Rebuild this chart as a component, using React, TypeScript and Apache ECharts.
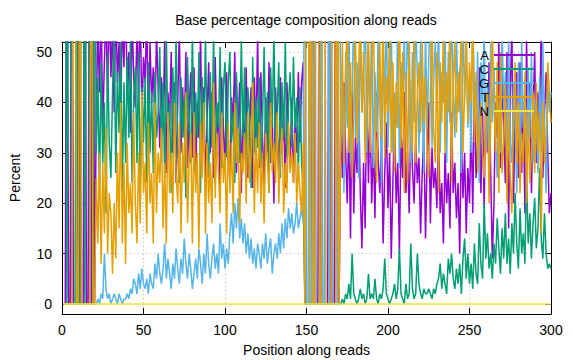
import React, { useEffect, useRef } from "react";
import * as echarts from "echarts";

const FONT = "'Liberation Sans', Arial, sans-serif";

const seriesNames = ["A", "C", "G", "T", "N"];
const seriesColors = ["#9400d3", "#009e73", "#56b4e9", "#e69f00", "#f0e442"];
const yTickValues = [0, 10, 20, 30, 40, 50];

// Percent of base A at positions 1..300
const aPct = [
  0, 0, 100, 0, 0, 100, 0, 0, 0, 100,
  0, 0, 0, 100, 0, 0, 100, 0, 100, 0,
  38, 55, 42, 60, 35, 48, 58, 40, 62, 45,
  55, 38, 60, 44, 52, 36, 58, 47, 63, 41,
  50, 34, 57, 45, 39, 55, 42, 60, 37, 49,
  44, 58, 33, 52, 40, 47, 36, 54, 43, 31,
  45, 34, 53, 26, 42, 36, 50, 30, 44, 24,
  40, 55, 30, 43, 33, 50, 27, 38, 46, 29,
  47, 24, 40, 33, 54, 28, 43, 22, 37, 48,
  30, 42, 25, 49, 32, 40, 21, 45, 35, 27,
  46, 31, 24, 41, 36, 50, 26, 34, 44, 22,
  39, 29, 47, 25, 35, 43, 23, 45, 32, 53,
  27, 46, 33, 24, 41, 30, 48, 28, 37, 20,
  43, 34, 26, 45, 30, 38, 23, 44, 33, 27,
  41, 24, 36, 30, 46, 32, 44, 48, 0, 0,
  0, 0, 0, 100, 0, 0, 0, 100, 0, 0,
  0, 0, 0, 100, 0, 0, 0, 100, 0, 0,
  38, 25, 44, 30, 20, 36, 13, 42, 18, 33,
  26, 40, 22, 11, 28, 15, 45, 24, 38, 20,
  32, 17, 42, 28, 22, 34, 12, 26, 36, 19,
  30, 9, 24, 38, 20, 28, 10, 34, 25, 42,
  22, 30, 18, 36, 27, 20, 33, 24, 29, 14,
  26, 34, 13, 28, 40, 16, 31, 23, 27, 19,
  35, 18, 24, 12, 30, 20, 26, 15, 38, 22,
  28, 17, 24, 10, 33, 21, 30, 14, 27, 20,
  36, 18, 44, 25, 32, 47, 22, 38, 19, 42,
  30, 48, 26, 9, 20, 40, 33, 52, 27, 45,
  35, 24, 50, 15, 42, 55, 20, 38, 46, 25,
  48, 26, 40, 18, 53, 30, 44, 22, 38, 50,
  28, 42, 34, 56, 25, 38, 46, 30, 18, 22,
];

// Percent of base C
const cPct = [
  100, 100, 0, 100, 100, 0, 0, 0, 100, 0,
  0, 100, 100, 0, 100, 100, 0, 0, 0, 100,
  30, 45, 22, 48, 28, 40, 18, 50, 32, 25,
  42, 55, 26, 46, 34, 52, 22, 44, 28, 49,
  33, 53, 24, 41, 47, 28, 50, 20, 43, 32,
  45, 24, 48, 30, 42, 26, 46, 33, 38, 51,
  28, 44, 25, 54, 32, 40, 22, 47, 34, 53,
  30, 24, 45, 33, 41, 21, 49, 35, 28, 55,
  26, 42, 33, 50, 22, 45, 30, 53, 34, 25,
  46, 31, 54, 24, 40, 35, 51, 27, 43, 48,
  29, 44, 50, 32, 38, 24, 46, 36, 28, 53,
  33, 47, 25, 43, 38, 23, 49, 30, 41, 31,
  45, 27, 36, 51, 32, 42, 22, 47, 35, 54,
  30, 38, 48, 25, 44, 33, 52, 29, 40, 46,
  31, 49, 35, 41, 26, 43, 28, 22, 0, 0,
  0, 0, 0, 0, 0, 0, 0, 0, 0, 0,
  0, 0, 0, 0, 0, 0, 0, 0, 0, 0,
  0, 1, 0, 2, 1, 4, 1, 10, 2, 1,
  0, 1, 3, 1, 2, 0, 1, 6, 1, 2,
  1, 5, 1, 0, 2, 1, 3, 9, 2, 1,
  0, 1, 2, 4, 1, 3, 11, 2, 1, 0,
  4, 1, 2, 12, 3, 1, 2, 10, 4, 2,
  1, 3, 2, 2, 3, 2, 1, 3, 2, 4,
  5, 8, 3, 6, 4, 2, 9, 6, 10, 5,
  3, 7, 4, 8, 2, 9, 13, 5, 10, 4,
  8, 3, 12, 6, 4, 16, 8, 5, 20, 9,
  14, 7, 10, 5, 12, 8, 17, 11, 6, 15,
  9, 18, 8, 13, 6, 16, 10, 22, 12, 7,
  19, 10, 14, 8, 26, 12, 18, 9, 16, 21,
  11, 15, 27, 13, 9, 18, 10, 7, 8, 7,
];

// Percent of base G
const gPct = [
  0, 0, 0, 0, 0, 0, 0, 0, 0, 0,
  0, 0, 0, 0, 0, 0, 0, 0, 0, 0,
  0, 1, 0, 2, 1, 10, 3, 1, 2, 0,
  1, 2, 1, 0, 2, 1, 0, 1, 1, 2,
  1, 3, 2, 5, 4, 2, 6, 3, 7, 4,
  3, 5, 2, 6, 4, 3, 8, 5, 10, 6,
  4, 7, 12, 5, 9, 6, 3, 8, 5, 11,
  7, 4, 9, 6, 13, 8, 5, 10, 7, 3,
  6, 9, 5, 11, 8, 4, 10, 6, 14, 8,
  5, 9, 12, 7, 10, 6, 16, 9, 12, 7,
  11, 8, 14, 18, 12, 20, 15, 21, 13, 17,
  12, 16, 10, 14, 9, 13, 8, 11, 7, 12,
  10, 7, 12, 9, 14, 8, 11, 13, 6, 10,
  12, 9, 14, 10, 16, 11, 17, 13, 19, 15,
  18, 14, 16, 20, 15, 17, 19, 16, 100, 0,
  0, 100, 0, 0, 100, 0, 0, 0, 100, 0,
  0, 100, 100, 0, 100, 0, 0, 0, 0, 100,
  30, 45, 22, 50, 35, 58, 28, 42, 60, 33,
  48, 25, 55, 38, 44, 62, 30, 50, 36, 57,
  27, 46, 34, 55, 40, 24, 52, 38, 60, 31,
  45, 56, 30, 42, 35, 58, 27, 48, 39, 54,
  33, 60, 41, 28, 50, 36, 57, 45, 30, 53,
  40, 26, 55, 35, 48, 62, 31, 44, 52, 38,
  57, 30, 46, 40, 55, 28, 50, 36, 60, 42,
  33, 54, 38, 47, 26, 58, 40, 52, 35, 45,
  30, 56, 42, 36, 50, 24, 48, 38, 55, 31,
  44, 28, 52, 36, 47, 33, 25, 40, 30, 55,
  38, 46, 24, 53, 32, 28, 44, 36, 22, 48,
  30, 52, 35, 42, 25, 47, 33, 50, 28, 40,
  36, 26, 45, 30, 52, 34, 22, 44, 38, 42,
];

// Percent of base T
const tPct = [
  0, 0, 0, 0, 0, 0, 100, 100, 0, 0,
  100, 0, 0, 0, 0, 0, 0, 100, 0, 0,
  25, 12, 30, 8, 28, 14, 35, 10, 22, 18,
  6, 20, 9, 30, 15, 40, 12, 28, 8, 32,
  18, 24, 14, 38, 20, 12, 30, 16, 42, 22,
  28, 14, 36, 20, 26, 12, 40, 18, 30, 24,
  35, 15, 28, 12, 38, 22, 30, 18, 40, 26,
  20, 36, 14, 32, 24, 42, 16, 28, 34, 12,
  38, 22, 30, 11, 36, 25, 40, 14, 32, 20,
  28, 16, 44, 21, 34, 26, 18, 38, 24, 30,
  14, 36, 22, 32, 18, 40, 28, 35, 16, 30,
  26, 34, 20, 38, 24, 30, 44, 18, 33, 22,
  36, 20, 30, 16, 34, 28, 22, 40, 26, 32,
  24, 38, 20, 30, 35, 18, 28, 22, 36, 26,
  30, 24, 34, 20, 28, 22, 18, 32, 0, 100,
  100, 0, 100, 0, 0, 100, 100, 0, 0, 100,
  100, 0, 0, 0, 0, 100, 100, 0, 100, 0,
  35, 52, 28, 45, 58, 30, 48, 25, 40, 55,
  32, 46, 60, 38, 50, 28, 42, 56, 30, 47,
  58, 36, 24, 40, 52, 33, 60, 29, 45, 38,
  55, 30, 48, 26, 44, 35, 62, 31, 50, 22,
  46, 24, 52, 37, 30, 56, 28, 42, 48, 34,
  52, 36, 45, 30, 25, 42, 58, 35, 28, 50,
  22, 48, 36, 55, 30, 46, 38, 58, 24, 44,
  52, 34, 46, 38, 60, 30, 42, 55, 36, 48,
  40, 58, 32, 46, 26, 34, 40, 30, 25, 38,
  42, 20, 36, 55, 40, 30, 48, 22, 50, 26,
  32, 44, 20, 38, 25, 18, 36, 48, 28, 40,
  22, 34, 28, 46, 20, 38, 24, 30, 42, 26,
  44, 30, 38, 14, 40, 28, 34, 48, 42, 36,
];

// Percent of N (flat at zero)
const nPct = [
  0, 0, 0, 0, 0, 0, 0, 0, 0, 0, 0, 0, 0, 0, 0, 0, 0, 0, 0, 0,
  0, 0, 0, 0, 0, 0, 0, 0, 0, 0, 0, 0, 0, 0, 0, 0, 0, 0, 0, 0,
  0, 0, 0, 0, 0, 0, 0, 0, 0, 0, 0, 0, 0, 0, 0, 0, 0, 0, 0, 0,
  0, 0, 0, 0, 0, 0, 0, 0, 0, 0, 0, 0, 0, 0, 0, 0, 0, 0, 0, 0,
  0, 0, 0, 0, 0, 0, 0, 0, 0, 0, 0, 0, 0, 0, 0, 0, 0, 0, 0, 0,
  0, 0, 0, 0, 0, 0, 0, 0, 0, 0, 0, 0, 0, 0, 0, 0, 0, 0, 0, 0,
  0, 0, 0, 0, 0, 0, 0, 0, 0, 0, 0, 0, 0, 0, 0, 0, 0, 0, 0, 0,
  0, 0, 0, 0, 0, 0, 0, 0, 0, 0, 0, 0, 0, 0, 0, 0, 0, 0, 0, 0,
  0, 0, 0, 0, 0, 0, 0, 0, 0, 0, 0, 0, 0, 0, 0, 0, 0, 0, 0, 0,
  0, 0, 0, 0, 0, 0, 0, 0, 0, 0, 0, 0, 0, 0, 0, 0, 0, 0, 0, 0,
  0, 0, 0, 0, 0, 0, 0, 0, 0, 0, 0, 0, 0, 0, 0, 0, 0, 0, 0, 0,
  0, 0, 0, 0, 0, 0, 0, 0, 0, 0, 0, 0, 0, 0, 0, 0, 0, 0, 0, 0,
  0, 0, 0, 0, 0, 0, 0, 0, 0, 0, 0, 0, 0, 0, 0, 0, 0, 0, 0, 0,
  0, 0, 0, 0, 0, 0, 0, 0, 0, 0, 0, 0, 0, 0, 0, 0, 0, 0, 0, 0,
  0, 0, 0, 0, 0, 0, 0, 0, 0, 0, 0, 0, 0, 0, 0, 0, 0, 0, 0, 0,
];

const allSeries = [aPct, cPct, gPct, tPct, nPct];

export default function App() {
  const ref = useRef<HTMLDivElement>(null);
  useEffect(() => {
    document.body.style.margin = "0";
    if (!ref.current) return;
    const chart = echarts.init(ref.current, null, { renderer: "svg" });
    const axisLine = { show: true, onZero: false, lineStyle: { color: "#000", width: 1 } };
    const tick = { show: true, inside: true, length: 6, lineStyle: { color: "#000", width: 1 } };
    const grid = { show: true, lineStyle: { color: "#b4b4b4", width: 1, type: [1, 3] } };
    chart.setOption({
      animation: false,
      textStyle: { fontFamily: FONT, fontSize: 14, color: "#000" },
      title: {
        text: "Base percentage composition along reads",
        left: 306,
        textAlign: "center",
        top: 13,
        padding: 0,
        textStyle: { fontFamily: FONT, fontSize: 14, fontWeight: "normal", color: "#000" },
      },
      legend: {
        orient: "vertical",
        right: 42,
        top: 48,
        padding: 0,
        itemGap: 0,
        itemWidth: 40,
        itemHeight: 14,
        align: "right",
        icon: "path://M0,0 L40,0 L40,2 L0,2 Z",
        data: seriesNames,
        textStyle: { fontFamily: FONT, fontSize: 13, lineHeight: 14, color: "#000" },
      },
      grid: { left: 62, right: 25, top: 42, bottom: 46, containLabel: false, outerBoundsMode: "none" },
      xAxis: [
        {
          type: "value", min: 0, max: 300, interval: 50, position: "bottom",
          name: "Position along reads", nameLocation: "middle", nameGap: 29, nameMoveOverlap: false,
          nameTextStyle: { fontFamily: FONT, fontSize: 14, color: "#000" },
          axisLine, axisTick: tick,
          axisLabel: { margin: 9, color: "#000", fontFamily: FONT, fontSize: 14 },
          splitLine: grid,
        },
        {
          type: "value", min: 0, max: 300, interval: 50, position: "top",
          axisLine, axisTick: tick, axisLabel: { show: false }, splitLine: { show: false },
        },
      ],
      yAxis: [
        {
          type: "value", min: -2, max: 52, position: "left",
          name: "Percent", nameLocation: "middle", nameGap: 40, nameMoveOverlap: false,
          nameTextStyle: { fontFamily: FONT, fontSize: 14, color: "#000" },
          axisLine, axisTick: { ...tick, customValues: yTickValues },
          axisLabel: { margin: 10, color: "#000", fontFamily: FONT, fontSize: 14, customValues: yTickValues },
          splitLine: grid,
        },
        {
          type: "value", min: -2, max: 52, position: "right",
          axisLine, axisTick: { ...tick, customValues: yTickValues },
          axisLabel: { show: false, customValues: yTickValues }, splitLine: { show: false },
        },
      ],
      series: allSeries.map((vals, k) => ({
        name: seriesNames[k],
        type: "line",
        xAxisIndex: 0,
        yAxisIndex: 0,
        symbol: "none",
        clip: true,
        color: seriesColors[k],
        lineStyle: { color: seriesColors[k], width: 1.5 },
        data: vals.map((v, i) => [i + 1, v]),
      })),
    });
    return () => chart.dispose();
  }, []);
  return <div ref={ref} style={{ width: 576, height: 360 }} />;
}
